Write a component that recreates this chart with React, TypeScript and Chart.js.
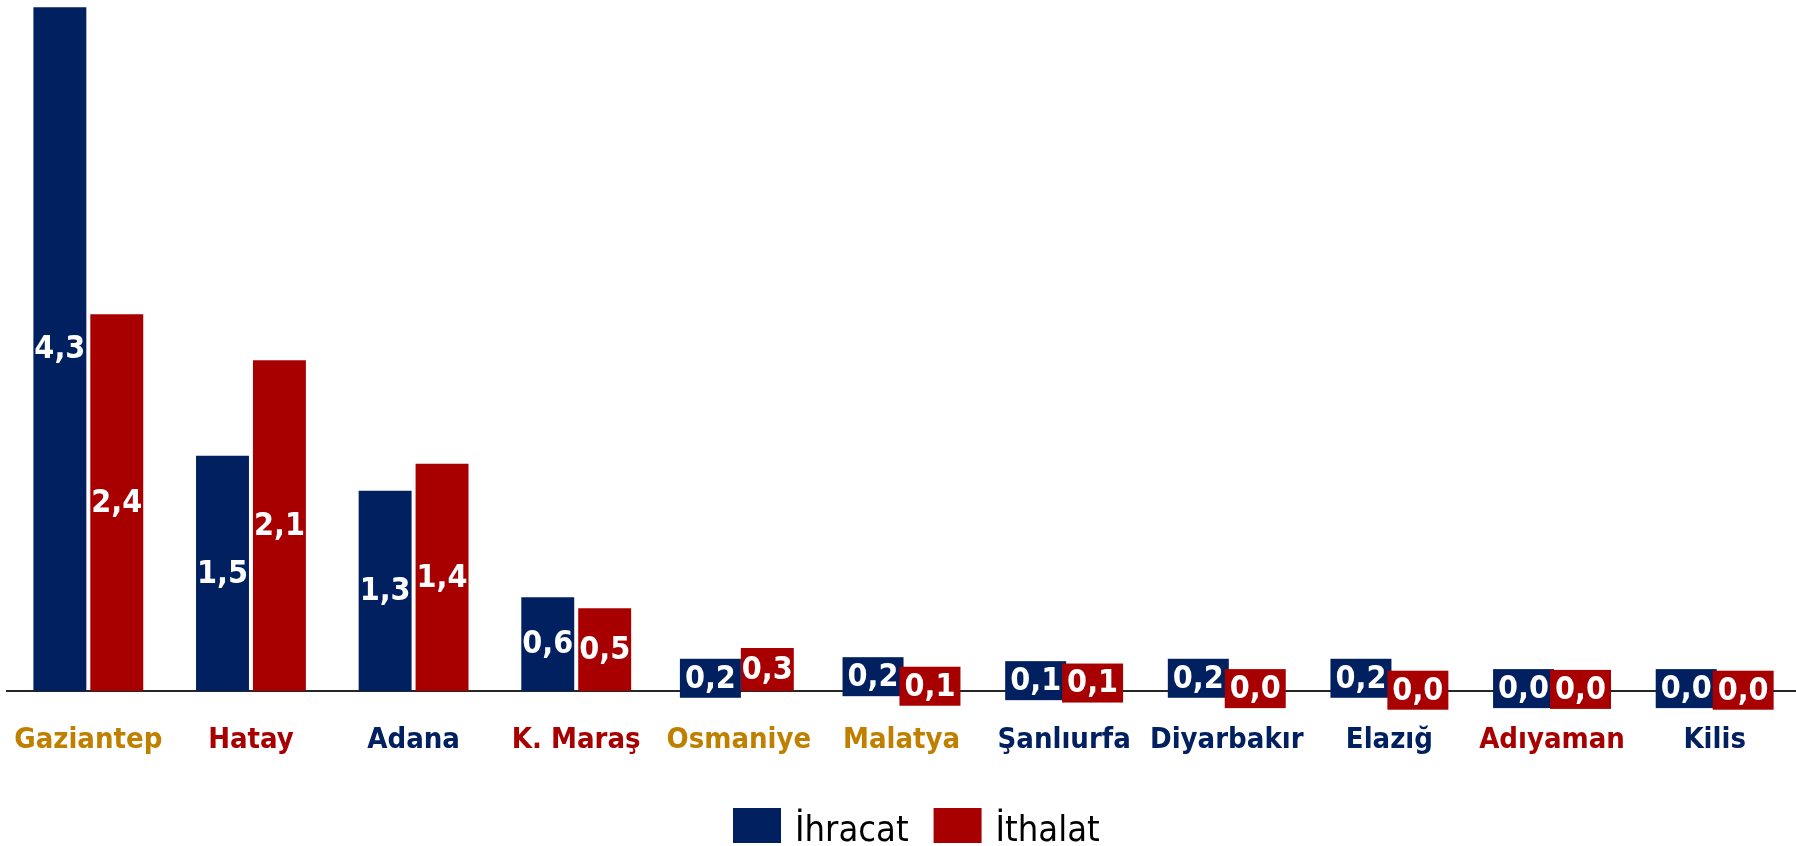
import React, { useEffect, useRef } from "react";
import { Chart, registerables } from "chart.js";

Chart.register(...registerables);

const CATEGORIES = [
  "Gaziantep",
  "Hatay",
  "Adana",
  "K. Maraş",
  "Osmaniye",
  "Malatya",
  "Şanlıurfa",
  "Diyarbakır",
  "Elazığ",
  "Adıyaman",
  "Kilis",
];

const NAVY = "#002060";
const RED = "#A80000";
const GOLD = "#BF8000";

const CATEGORY_COLORS = [GOLD, RED, NAVY, RED, GOLD, GOLD, NAVY, NAVY, NAVY, RED, NAVY];

const SERIES_NAMES = ["İhracat", "İthalat"];
const IHRACAT = [4.3, 1.48, 1.26, 0.59, 0.16, 0.18, 0.13, 0.16, 0.16, 0.03, 0.03];
const ITHALAT = [2.37, 2.08, 1.43, 0.52, 0.27, 0.06, 0.1, 0.03, 0.01, 0.02, 0.01];
const SERIES_COLORS = [NAVY, RED];

const Y_MAX = 4.346;
const FONT = '"DejaVu Sans Condensed", "DejaVu Sans", sans-serif';

const fmt = (v: number) => v.toFixed(1).replace(".", ",");

// Value labels centred on each bar; short bars get a coloured box behind the text.
const valueLabels = {
  id: "valueLabels",
  afterDatasetsDraw(chart: any) {
    const { ctx } = chart;
    ctx.save();
    ctx.font = `bold 32px ${FONT}`;
    ctx.textAlign = "center";
    ctx.textBaseline = "middle";
    const boxH = 39;
    chart.data.datasets.forEach((ds: any, di: number) => {
      const meta = chart.getDatasetMeta(di);
      meta.data.forEach((bar: any, i: number) => {
        const v = ds.data[i] as number;
        const text = fmt(v);
        const cy = (bar.y + bar.base) / 2;
        const h = Math.abs(bar.base - bar.y);
        const tw = ctx.measureText(text).width;
        if (h < boxH) {
          ctx.fillStyle = ds.backgroundColor;
          ctx.fillRect(bar.x - tw / 2 - 5, cy - boxH / 2, tw + 10, boxH);
        }
        ctx.fillStyle = "#ffffff";
        ctx.fillText(text, bar.x, cy + 1);
      });
    });
    ctx.restore();
  },
};

// Legend row under the axis labels.
const legendRow = {
  id: "legendRow",
  afterDraw(chart: any) {
    const { ctx } = chart;
    ctx.save();
    ctx.font = `36px ${FONT}`;
    ctx.textBaseline = "alphabetic";
    ctx.textAlign = "left";
    const boxW = 48;
    const boxH = 35;
    const boxTop = 808;
    let x = chart.width / 2 - 165;
    chart.data.datasets.forEach((ds: any) => {
      ctx.fillStyle = ds.backgroundColor;
      ctx.fillRect(x, boxTop, boxW, boxH);
      x += boxW + 14;
      ctx.fillStyle = "#000000";
      ctx.fillText(ds.label, x, 841);
      x += ctx.measureText(ds.label).width + 25;
    });
    ctx.restore();
  },
};

export default function App() {
  const canvasRef = useRef<HTMLCanvasElement | null>(null);

  useEffect(() => {
    if (!canvasRef.current) return;
    const chart = new Chart(canvasRef.current, {
      type: "bar",
      data: {
        labels: CATEGORIES,
        datasets: [IHRACAT, ITHALAT].map((values, k) => ({
          label: SERIES_NAMES[k],
          data: values,
          backgroundColor: SERIES_COLORS[k],
          borderWidth: 0,
          categoryPercentage: 0.7,
          barPercentage: 0.93,
        })),
      },
      options: {
        animation: false,
        responsive: false,
        devicePixelRatio: 1,
        layout: { padding: { left: 7, right: 0, top: 0, bottom: 0 } },
        plugins: {
          legend: { display: false },
          tooltip: { enabled: false },
        },
        scales: {
          x: {
            grid: { display: false, drawTicks: false },
            border: { display: true, color: "#262626", width: 2 },
            ticks: {
              autoSkip: false,
              maxRotation: 0,
              padding: 32,
              color: (c: any) => CATEGORY_COLORS[c.index],
              font: { family: FONT, size: 29, weight: "bold" },
            },
            afterFit: (s: any) => {
              s.height = 155;
              s.paddingLeft = 0;
              s.paddingRight = 0;
            },
          },
          y: { display: false, min: 0, max: Y_MAX },
        },
      },
      plugins: [valueLabels, legendRow],
    });
    return () => chart.destroy();
  }, []);

  return (
    <div style={{ position: "fixed", left: 0, top: 0, width: 1796, height: 846, background: "#fff" }}>
      <canvas ref={canvasRef} width={1796} height={846} style={{ display: "block" }} />
    </div>
  );
}
